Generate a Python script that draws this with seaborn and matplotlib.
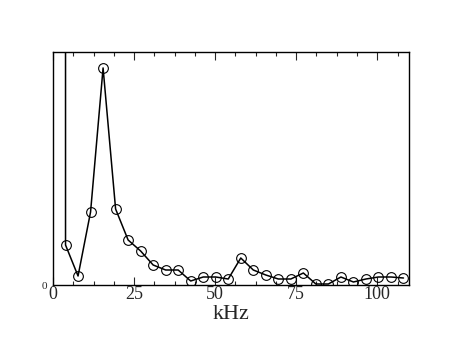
import pandas as pd
import seaborn as sns
from matplotlib import pyplot as plt
from matplotlib.ticker import MultipleLocator

# spectrum amplitude (arbitrary units) vs frequency in kHz
freq_khz = [3.86, 3.86, 7.72, 11.58, 15.44, 19.30, 23.16, 27.02, 30.88, 34.74, 38.60,
            42.46, 46.32, 50.18, 54.04, 57.90, 61.76, 65.62, 69.48, 73.34, 77.20,
            81.06, 84.92, 88.78, 92.64, 96.50, 100.36, 104.22, 108.08]
amplitude = [2000, 40, 9, 73, 217, 76, 45, 34, 20, 15, 15,
             4, 8, 8, 6, 27, 15, 10, 6, 6, 12,
             1, 1, 8, 3, 6, 8, 8, 7]

df = pd.DataFrame({"kHz": freq_khz, "amp": amplitude})

sns.set_style("white")
plt.rcParams['font.family'] = ['Liberation Serif', 'DejaVu Serif']

fig = plt.figure(figsize=(4.63, 3.58), dpi=100)
ax = fig.add_axes([0.1145, 0.2039, 0.769, 0.651])

# first point only exists to draw the clipped vertical line
sns.lineplot(data=df, x="kHz", y="amp", sort=False, estimator=None,
             errorbar=None, color="black", lw=1.1, ax=ax)
ax.plot(df.kHz[1:], df.amp[1:], ls="none", marker="o", ms=7,
        mfc="none", mec="black", mew=0.8)

ax.set_xlim(0, 109.8)
ax.set_ylim(0, 233)
ax.xaxis.set_major_locator(MultipleLocator(25))
ax.xaxis.set_minor_locator(MultipleLocator(6.25))
ax.set_yticks([0])
ax.set_yticklabels(["0"], fontsize=8)
ax.tick_params(axis="x", which="major", direction="in", length=5.5, width=0.8,
               top=True, bottom=True, labelsize=13, pad=1)
ax.tick_params(axis="x", which="minor", direction="in", length=3, width=0.8,
               top=True, bottom=True)
ax.tick_params(axis="y", length=0, pad=4)
for s in ax.spines.values():
    s.set_color("black")
    s.set_linewidth(1.0)
ax.set_xlabel("kHz", fontsize=16, labelpad=1)
ax.set_ylabel("")

fig.savefig("out.png", dpi=100)
